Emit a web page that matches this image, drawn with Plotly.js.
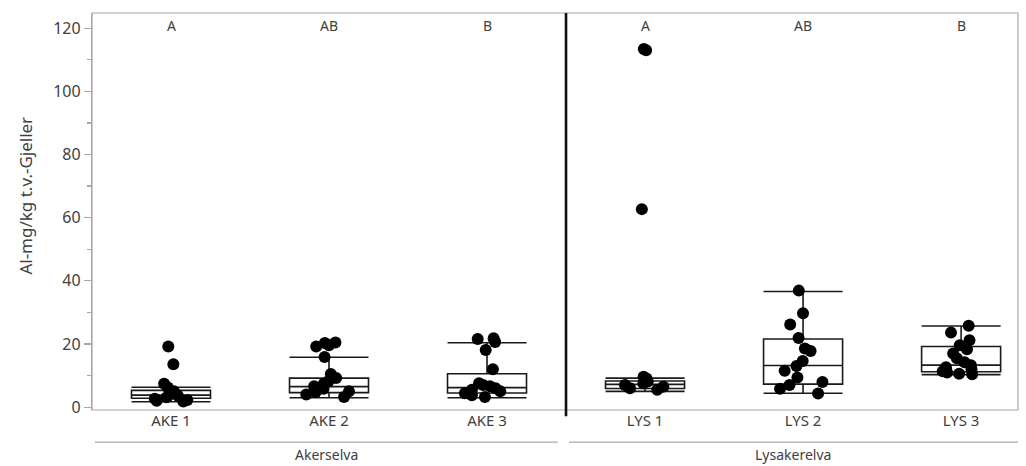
<!DOCTYPE html>
<html>
<head>
<meta charset="utf-8">
<script src="https://cdn.plot.ly/plotly-3.0.1.min.js"></script>
<style>
  html, body { margin: 0; padding: 0; background: #ffffff; }
  #chart { width: 1026px; height: 466px; }
</style>
</head>
<body>
<div id="chart"></div>
<script>
// Sites along each river
const akerSites = ['AKE 1', 'AKE 2', 'AKE 3'];
const lysSites = ['LYS 1', 'LYS 2', 'LYS 3'];
const rivers = ['Akerselva', 'Lysakerelva'];
const yTitle = 'Al-mg/kg t.v.-Gjeller';

// Significance letters per site
const akerLetters = ['A', 'AB', 'B'];
const lysLetters = ['A', 'AB', 'B'];

// Individual measurements, Al mg/kg dry weight in gills
const ake1 = [19.2, 13.6, 7.4, 6.2, 5.0, 4.2, 3.6, 3.1, 2.7, 2.3, 2.0, 1.8];
const ake2 = [20.5, 20.3, 19.6, 19.2, 15.9, 10.5, 9.2, 8.3, 7.4, 6.6, 5.8, 5.0, 4.8, 4.0, 3.2];
const ake3 = [21.8, 21.6, 20.6, 18.1, 12.0, 7.6, 7.0, 6.6, 6.0, 5.5, 5.0, 4.4, 3.8, 3.2];
const lys1 = [113.4, 113.0, 62.7, 9.6, 9.1, 8.6, 8.1, 7.6, 7.0, 6.5, 6.0, 5.5];
const lys2 = [36.9, 29.7, 26.2, 21.9, 18.6, 17.8, 14.6, 13.0, 11.5, 9.4, 8.0, 7.0, 5.8, 4.3];
const lys3 = [25.8, 23.6, 21.2, 19.6, 18.3, 17.0, 15.5, 14.2, 13.3, 12.6, 12.0, 11.4, 11.0, 10.6, 10.4];

// Box summaries (quantiles and whisker ends) per site
const akerQ1 = [2.8, 4.6, 4.5];
const akerMedian = [3.8, 6.5, 6.2];
const akerQ3 = [5.3, 9.2, 10.6];
const akerLow = [1.7, 3.0, 3.0];
const akerHigh = [6.3, 15.8, 20.4];

const lysQ1 = [5.9, 7.3, 11.2];
const lysMedian = [7.2, 13.2, 13.3];
const lysQ3 = [8.3, 21.6, 19.2];
const lysLow = [5.0, 4.4, 10.3];
const lysHigh = [9.2, 36.6, 25.7];

const yTicks = [0, 20, 40, 60, 80, 100, 120];
const yMinorTicks = [10, 30, 50, 70, 90, 110];

const FONT = 'Noto Sans, Open Sans, sans-serif';
const TEXT = '#404040';
const FRAME = '#a8a8a8';
const SPLIT = 0.5119;

function boxTrace(sites, q1, med, q3, lo, hi, xa) {
  return {
    type: 'box', xaxis: xa, yaxis: 'y',
    x: sites, q1: q1, median: med, q3: q3, lowerfence: lo, upperfence: hi,
    boxpoints: false, width: 0.5, whiskerwidth: 1,
    fillcolor: '#ffffff', line: { color: '#1a1a1a', width: 1.6 },
    hoverinfo: 'skip', showlegend: false
  };
}

function pointsTrace(sites, groups, xa) {
  const xs = [], ys = [];
  groups.forEach((g, i) => g.forEach(v => { xs.push(sites[i]); ys.push(v); }));
  return {
    type: 'box', xaxis: xa, yaxis: 'y', x: xs, y: ys,
    boxpoints: 'all', jitter: 0.6, pointpos: 0, width: 0.5,
    fillcolor: 'rgba(0,0,0,0)', line: { width: 0, color: 'rgba(0,0,0,0)' },
    marker: { color: '#000000', size: 12, line: { width: 0 } },
    hoverinfo: 'skip', showlegend: false
  };
}

const data = [
  boxTrace(akerSites, akerQ1, akerMedian, akerQ3, akerLow, akerHigh, 'x'),
  boxTrace(lysSites, lysQ1, lysMedian, lysQ3, lysLow, lysHigh, 'x2'),
  pointsTrace(akerSites, [ake1, ake2, ake3], 'x'),
  pointsTrace(lysSites, [lys1, lys2, lys3], 'x2')
];

const annotations = [];
akerSites.forEach((s, i) => annotations.push({
  xref: 'x', yref: 'y', x: s, y: 121, text: akerLetters[i], showarrow: false,
  font: { family: FONT, size: 14, color: TEXT }
}));
lysSites.forEach((s, i) => annotations.push({
  xref: 'x2', yref: 'y', x: s, y: 121, text: lysLetters[i], showarrow: false,
  font: { family: FONT, size: 14, color: TEXT }
}));
// River names under the site labels
[[rivers[0], 0.2527], [rivers[1], 0.757]].forEach(([t, px]) => annotations.push({
  xref: 'paper', yref: 'paper', x: px, y: -0.112, text: t, showarrow: false,
  xanchor: 'center', yanchor: 'middle',
  font: { family: FONT, size: 14, color: TEXT }
}));
// Vertical axis title
annotations.push({
  xref: 'paper', yref: 'paper', x: 0, y: 0.54, xshift: -66, text: yTitle,
  textangle: -90, showarrow: false, xanchor: 'center', yanchor: 'middle',
  font: { family: FONT, size: 17, color: TEXT }
});

const shapes = [
  // plot frame
  { type: 'rect', xref: 'paper', yref: 'paper', x0: 0, x1: 1, y0: 0, y1: 1,
    line: { color: FRAME, width: 1.2 }, layer: 'below' },
  // divider between the two rivers
  { type: 'line', xref: 'paper', yref: 'paper', x0: SPLIT, x1: SPLIT, y0: -0.016, y1: 1,
    line: { color: '#111111', width: 2.6 } },
  // river brackets
  { type: 'line', xref: 'paper', yref: 'paper', x0: 0.003, x1: 0.503, y0: -0.081, y1: -0.081,
    line: { color: FRAME, width: 1.2 } },
  { type: 'line', xref: 'paper', yref: 'paper', x0: 0.515, x1: 1, y0: -0.081, y1: -0.081,
    line: { color: FRAME, width: 1.2 } }
];

const xCommon = {
  type: 'category', showgrid: false, zeroline: false, showline: false,
  ticks: '', tickfont: { family: FONT, size: 15, color: TEXT }, fixedrange: true
};

const layout = {
  width: 1026, height: 466,
  margin: { l: 92, r: 8, t: 13, b: 56 },
  paper_bgcolor: '#ffffff', plot_bgcolor: '#ffffff',
  boxmode: 'overlay', showlegend: false,
  font: { family: FONT, color: TEXT },
  xaxis: Object.assign({}, xCommon, {
    domain: [0, SPLIT], anchor: 'y', categoryorder: 'array', categoryarray: akerSites,
    range: [-0.5, 2.5]
  }),
  xaxis2: Object.assign({}, xCommon, {
    domain: [SPLIT, 1], anchor: 'y', categoryorder: 'array', categoryarray: lysSites,
    range: [-0.5, 2.36]
  }),
  yaxis: {
    domain: [0, 1], anchor: 'x', range: [-0.9, 124.8],
    tickvals: yTicks, ticktext: yTicks.map(String),
    ticks: 'outside', ticklen: 7, tickwidth: 1.2, tickcolor: FRAME,
    minor: { tickvals: yMinorTicks, ticks: 'outside', ticklen: 4, tickwidth: 1.2, tickcolor: FRAME },
    showgrid: false, zeroline: false, showline: true, linecolor: FRAME, linewidth: 1.2,
    tickfont: { family: FONT, size: 16, color: TEXT },
    fixedrange: true
  },
  annotations: annotations,
  shapes: shapes
};

Plotly.newPlot('chart', data, layout, { displayModeBar: false, staticPlot: true });
</script>
</body>
</html>
